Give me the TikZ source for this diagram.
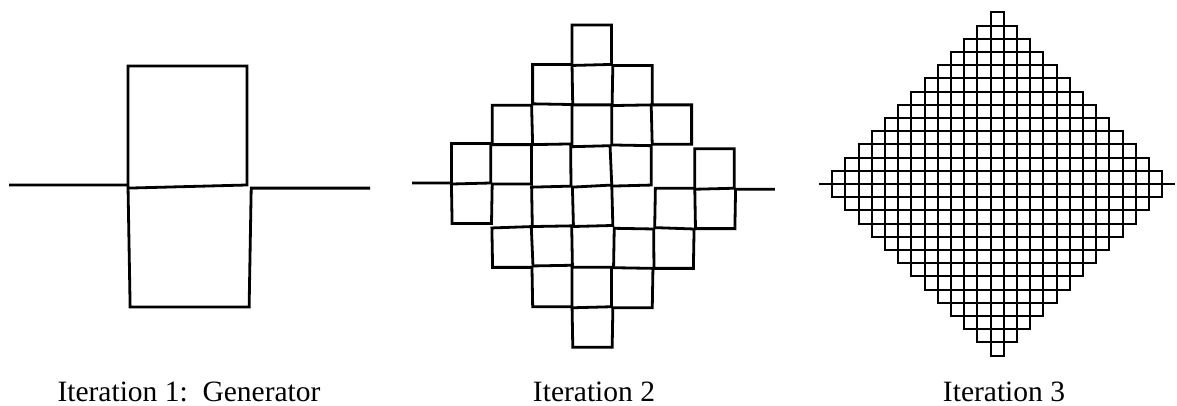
\documentclass[tikz,border=0pt]{standalone}
\usepackage{fontspec}
\setmainfont{Liberation Serif}
% turn angles of the nine generator steps (slightly skewed, as hand drawn)
\newcommand{\peanosteps}{0,90,0,270,181.5,271,0,89,0}
% exact turn angles
\newcommand{\peanodirs}{0,90,0,270,180,270,0,90,0}
\begin{document}
\begin{tikzpicture}[x=1pt, y=1pt,
  curve/.style={draw=black, line width=2.8pt, line join=miter},
  fine curve/.style={curve, line width=2.1pt},
  caption/.style={anchor=base, inner sep=0pt, font=\fontsize{29.5}{35}\selectfont}
]
  \useasboundingbox (0,0) rectangle (1177,406);

  %% Iteration 1: generator
  \coordinate (gen) at (9,221);
  \draw[curve] (gen) \foreach \a in \peanosteps {-- ++(\a:119)};

  %% Iteration 2
  \coordinate (iter2) at (412,223);
  \draw[curve] (iter2) \foreach \a in \peanosteps {\foreach \b in \peanosteps {-- ++(\a+\b:39.4)}};

  %% Iteration 3
  \coordinate (iter3) at (819,222);
  \draw[fine curve] (iter3) \foreach \a in \peanodirs {\foreach \b in \peanodirs {\foreach \c in \peanodirs {-- ++(\a+\b+\c:13.2)}}};

  %% Captions
  \node[caption] (cap1) at (189,4) {Iteration 1:\ \ Generator};
  \node[caption] (cap2) at (594,4) {Iteration 2};
  \node[caption] (cap3) at (1004,4) {Iteration 3};
\end{tikzpicture}
\end{document}
